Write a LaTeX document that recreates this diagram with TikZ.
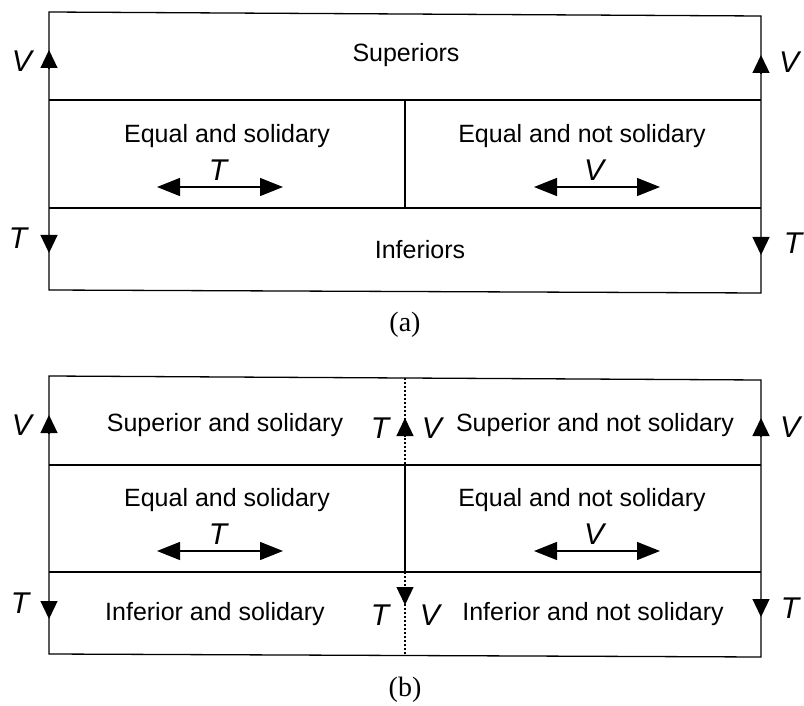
\documentclass[tikz,border=0pt]{standalone}
\usepackage{fontspec}
\setmainfont{Liberation Sans}
\newfontfamily\capfont{Liberation Serif}
\usetikzlibrary{arrows.meta}
\tikzset{
  rlline/.style={line width=1.3pt, draw=black},
  rldots/.style={line width=1.3pt, draw=black, dash pattern=on 2pt off 2pt},
  rlarrow/.style={line width=1.3pt, -{Triangle[length=18pt,width=17pt]}},
  rlboth/.style={line width=1.3pt, {Triangle[length=23pt,width=18pt]}-{Triangle[length=23pt,width=18pt]}},
  rltext/.style={font=\fontsize{25}{30}\selectfont, inner sep=0pt},
  rlvar/.style={font=\fontsize{30}{36}\selectfont\itshape, inner sep=0pt},
  rlcap/.style={font=\capfont\fontsize{28}{34}\selectfont, inner sep=0pt},
}
\begin{document}
\begin{tikzpicture}[x=1pt,y=-1pt]
\useasboundingbox (0,0) rectangle (804,706);
\coordinate (a-tl) at (49,12);
\coordinate (a-tr) at (761,16);
\coordinate (a-l1) at (49,100);
\coordinate (a-r1) at (761,100);
\coordinate (a-l2) at (49,208);
\coordinate (a-r2) at (761,208);
\coordinate (a-bl) at (49,290);
\coordinate (a-br) at (761,293);
\coordinate (a-m1) at (405,100);
\coordinate (a-m2) at (405,208);
\draw[rlline] (a-tl) -- (a-tr) -- (a-br) -- (a-bl) -- cycle;
\draw[rlline] (a-l1) -- (a-r1);
\draw[rlline] (a-l2) -- (a-r2);
\draw[rlline] (a-m1) -- (a-m2);
\draw[rlarrow] (49,68) -- (49,50);
\draw[rlarrow] (761,73) -- (761,55);
\draw[rlarrow] (49,235) -- (49,253);
\draw[rlarrow] (761,237) -- (761,255);
\draw[rlboth] (157,187) -- (283,187);
\draw[rlboth] (534,187) -- (660,187);
\node[rlvar] (a-lv) at (22,61) {V};
\node[rlvar] (a-rv) at (789,62) {V};
\node[rlvar] (a-lt) at (18,238) {T};
\node[rlvar] (a-rt) at (793,243) {T};
\node[rlvar] (a-ht) at (218,170) {T};
\node[rlvar] (a-hv) at (594,170) {V};
\node[rltext] (a-sup) at (406,55) {Superiors};
\node[rltext] (a-eqs) at (227,136) {Equal and solidary};
\node[rltext] (a-eqn) at (582,136) {Equal and not solidary};
\node[rltext] (a-inf) at (420,250) {Inferiors};
\node[rlcap] (a-cap) at (405,325) {(a)};
\coordinate (b-tl) at (49,376);
\coordinate (b-tr) at (761,380);
\coordinate (b-l1) at (49,465);
\coordinate (b-r1) at (761,465);
\coordinate (b-l2) at (49,572);
\coordinate (b-r2) at (761,572);
\coordinate (b-bl) at (49,654);
\coordinate (b-br) at (761,657);
\coordinate (b-m0) at (405,378);
\coordinate (b-m1) at (405,465);
\coordinate (b-m2) at (405,572);
\coordinate (b-m3) at (405,655);
\draw[rlline] (b-tl) -- (b-tr) -- (b-br) -- (b-bl) -- cycle;
\draw[rlline] (b-l1) -- (b-r1);
\draw[rlline] (b-l2) -- (b-r2);
\draw[rlline] (b-m1) -- (b-m2);
\draw[rldots] (b-m0) -- (b-m1);
\draw[rldots] (b-m2) -- (b-m3);
\draw[rlarrow] (49,433) -- (49,415);
\draw[rlarrow] (761,436) -- (761,418);
\draw[rlarrow] (405,436) -- (405,418);
\draw[rlarrow] (49,601) -- (49,619);
\draw[rlarrow] (761,599) -- (761,617);
\draw[rlarrow] (405,587) -- (405,605);
\draw[rlboth] (157,551) -- (283,551);
\draw[rlboth] (534,551) -- (660,551);
\node[rlvar] (b-lv) at (22,425) {V};
\node[rlvar] (b-rv) at (790,427) {V};
\node[rlvar] (b-mt) at (380,428) {T};
\node[rlvar] (b-mv) at (432,428) {V};
\node[rlvar] (b-lt) at (20,603) {T};
\node[rlvar] (b-rt) at (790,608) {T};
\node[rlvar] (b-nt) at (380,615) {T};
\node[rlvar] (b-nv) at (430,615) {V};
\node[rlvar] (b-ht) at (218,534) {T};
\node[rlvar] (b-hv) at (594,534) {V};
\node[rltext] (b-sups) at (225,425) {Superior and solidary};
\node[rltext] (b-supn) at (595,425) {Superior and not solidary};
\node[rltext] (b-eqs) at (227,500) {Equal and solidary};
\node[rltext] (b-eqn) at (582,500) {Equal and not solidary};
\node[rltext] (b-infs) at (215,614) {Inferior and solidary};
\node[rltext] (b-infn) at (593,614) {Inferior and not solidary};
\node[rlcap] (b-cap) at (405,690) {(b)};
\end{tikzpicture}
\end{document}
